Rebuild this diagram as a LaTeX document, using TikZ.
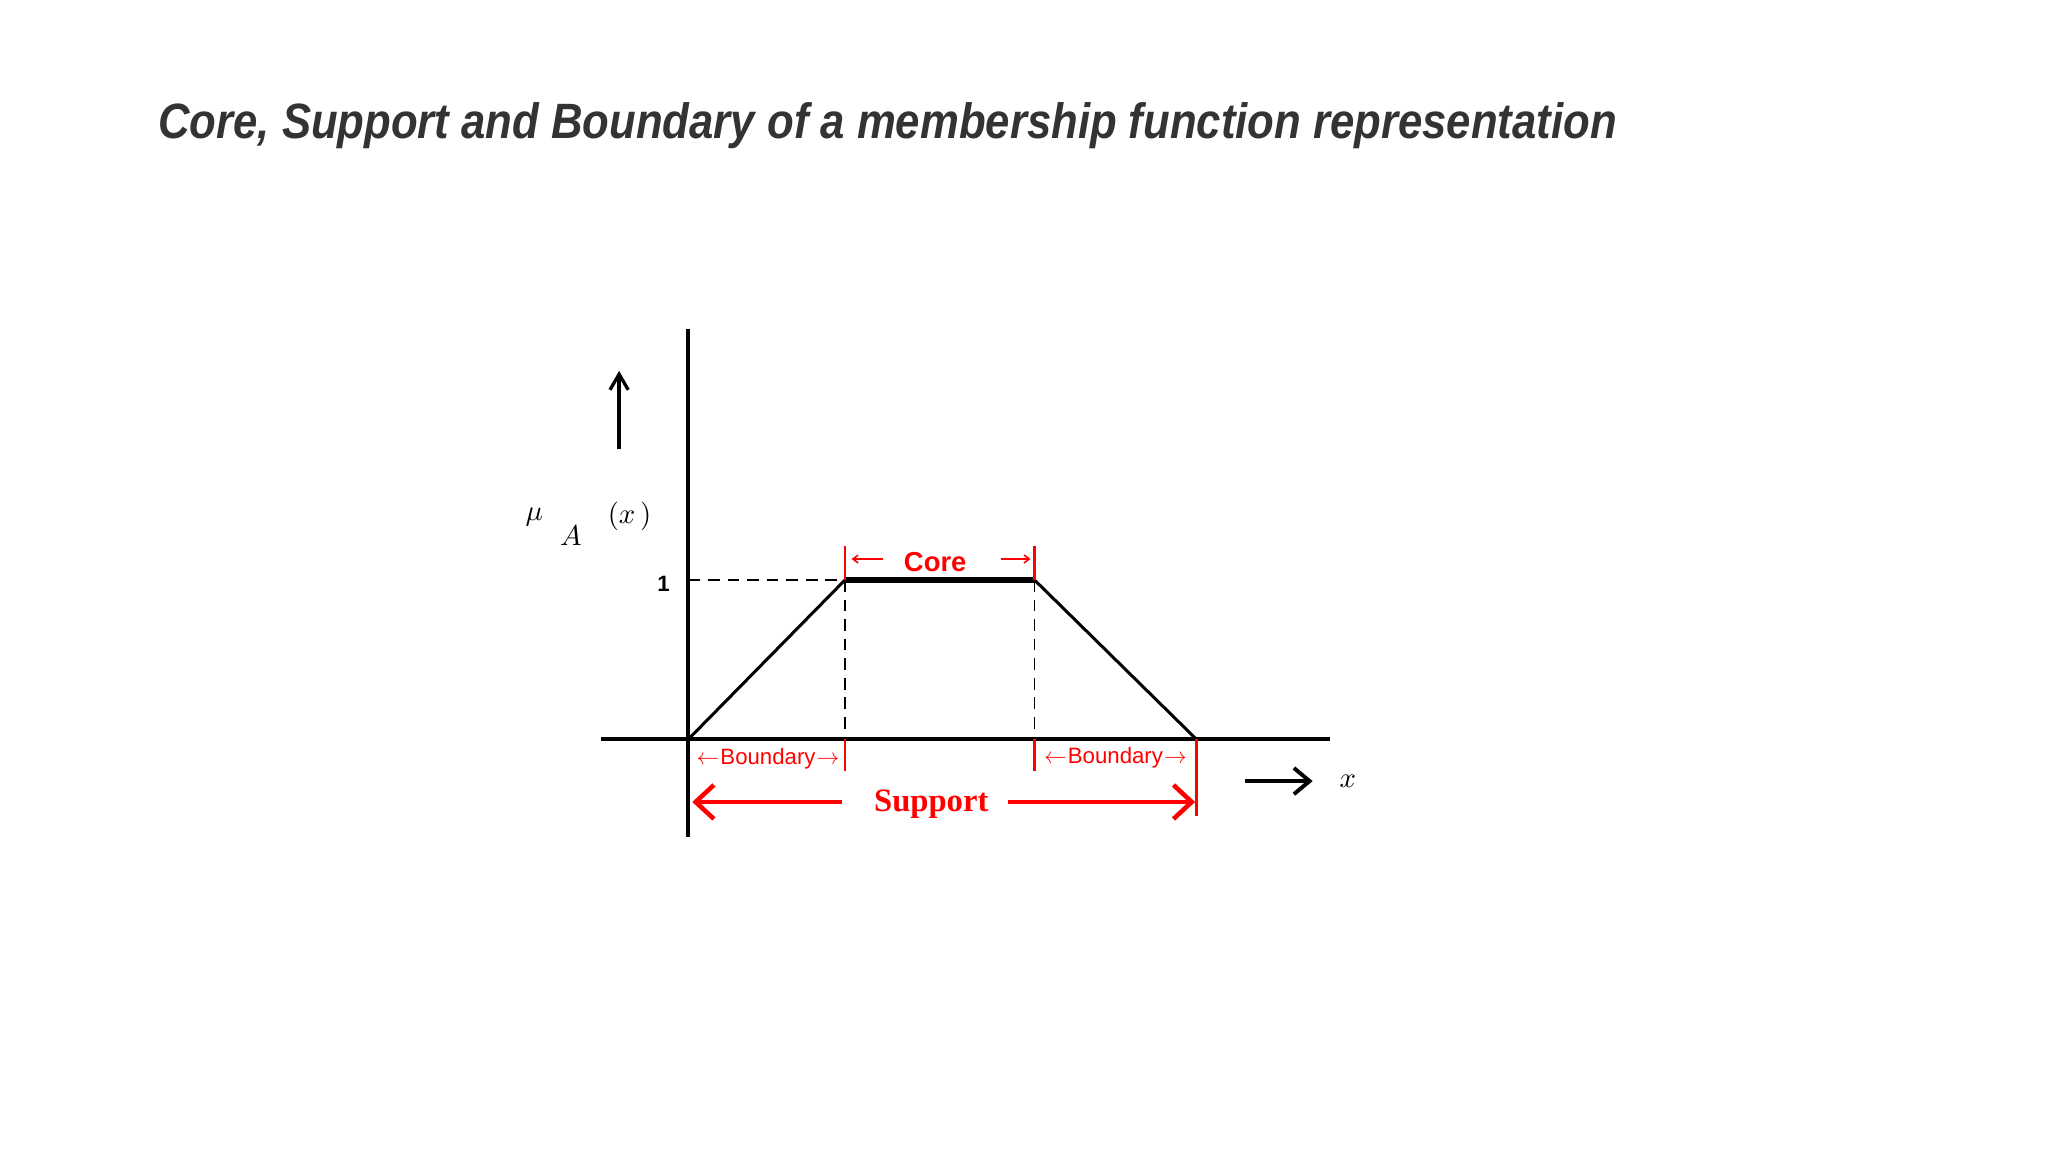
\documentclass[tikz,border=0pt]{standalone}
\usepackage{fontspec}
\setmainfont{Liberation Sans}
\newfontfamily\serifb{Liberation Serif}
\usetikzlibrary{arrows.meta}
\definecolor{titlegray}{HTML}{333333}
\begin{document}
\begin{tikzpicture}[x=1pt,y=-1pt,
  ax/.style={line width=3pt},
  mf/.style={line width=2.3pt},
  dsh/.style={line width=1.2pt,dash pattern=on 9pt off 6pt},
  rl/.style={red,line width=1.6pt},
  lbl/.style={inner sep=0pt,text=red},
  mth/.style={inner sep=0pt}]
\useasboundingbox (0,0) rectangle (1568,882);
\node[anchor=west,inner sep=0pt,text=titlegray] (title) at (121,96) {\scalebox{0.88}[1]{\fontsize{38}{42}\selectfont\bfseries\itshape Core, Support and Boundary of a membership function representation}};
% axes
\coordinate (ytop) at (527,252); \coordinate (ybot) at (527,641);
\coordinate (xl) at (460,566); \coordinate (xr) at (1018,566);
\draw[ax] (ytop) -- (ybot);
\draw[ax] (xl) -- (xr);
\coordinate (p0) at (527,566); \coordinate (p1) at (647,444);
\coordinate (p2) at (792,444); \coordinate (p3) at (916,566);
\coordinate (d1) at (647,566); \coordinate (d2) at (792,566);
\draw[dsh] (527,444) coordinate (one) -- (p1);
\draw[dsh] (p1) -- (d1); \draw[dsh] (p2) -- (d2);
\draw[mf] (p0) -- (p1); \draw[mf] (p2) -- (p3);
\draw[line width=4pt] (p1) -- (p2);
\node[anchor=east,inner sep=0pt] (onel) at (513,447) {\fontsize{17}{18}\selectfont\bfseries 1};
% y arrow and label
\coordinate (ua) at (474,344); \coordinate (ub) at (474,284);
\draw[line width=2.5pt,-{Straight Barb[length=12pt,width=14pt]}] (ua) -- (ub);
\node[mth] (mu) at (409,396) {\scalebox{2.2}{$\mu$}};
\node[mth] (sa) at (437,410) {\scalebox{2.2}{$A$}};
\node[mth] (px) at (482,395) {\scalebox{2.2}{$(x\,)$}};
% x arrow
\coordinate (xa) at (953,598); \coordinate (xb) at (1005,598);
\draw[line width=3pt,-{Straight Barb[length=12pt,width=20pt]}] (xa) -- (xb);
\node[mth] (xlab) at (1032,598) {\scalebox{2.2}{$x$}};
% core
\draw[rl] (647,418) -- (p1); \draw[rl] (792,418) -- (p2);
\node[lbl] (core) at (716,430) {\fontsize{21}{22}\selectfont\bfseries Core};
\draw[rl,line width=1.2pt,-{Straight Barb[length=4pt,width=6pt]}] (676,428) -- (652,428);
\draw[rl,line width=1.2pt,-{Straight Barb[length=4pt,width=6pt]}] (766,428) -- (789,428);
% boundaries
\draw[rl] (d1) -- (647,590); \draw[rl] (d2) -- (792,590);
\node[lbl] (b1) at (588,581) {\fontsize{17}{18}\selectfont $\leftarrow$\hspace{1pt}Boundary\hspace{1pt}$\rightarrow$};
\node[lbl] (b2) at (854,580) {\fontsize{17}{18}\selectfont $\leftarrow$\hspace{1pt}Boundary\hspace{1pt}$\rightarrow$};
% support
\draw[red,line width=2.5pt] (p3) -- (916,625);
\node[lbl] (sup) at (713,616) {\fontsize{25}{26}\selectfont\serifb\bfseries Support};
\coordinate (sl) at (530,614); \coordinate (sr) at (915,614);
\draw[red,line width=3.5pt,-{Straight Barb[length=14pt,width=26pt]}] (645,614) -- (sl);
\draw[red,line width=3.5pt,-{Straight Barb[length=14pt,width=26pt]}] (772,614) -- (sr);
\end{tikzpicture}
\end{document}
